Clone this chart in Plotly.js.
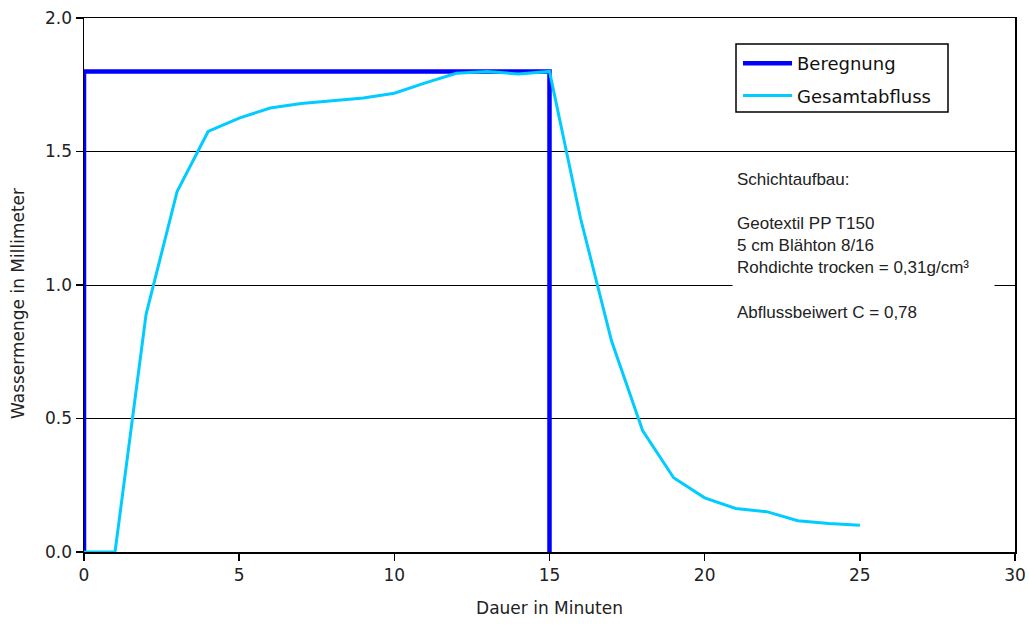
<!DOCTYPE html>
<html>
<head>
<meta charset="utf-8">
<script src="https://cdn.plot.ly/plotly-3.0.1.min.js"></script>
<style>html,body{margin:0;padding:0;background:#fff;}#chart{width:1029px;height:626px;}</style>
</head>
<body>
<div id="chart"></div>
<script>
// Data
const beregnungX = [0, 0, 15, 15];
const beregnungY = [0, 1.8, 1.8, 0];
const abflussX = [0, 1, 2, 3, 4, 5, 6, 7, 8, 9, 10, 11, 12, 13, 14, 15, 16, 17, 18, 19, 20, 21, 22, 23, 24, 25];
const abflussY = [0, 0, 0.89, 1.35, 1.575, 1.625, 1.663, 1.68, 1.69, 1.70, 1.718, 1.757, 1.793, 1.80, 1.79, 1.80, 1.25, 0.79, 0.455, 0.278, 0.203, 0.163, 0.151, 0.117, 0.107, 0.100];
const seriesNames = ["Beregnung", "Gesamtabfluss"];
const xTitle = "Dauer in Minuten";
const yTitle = "Wassermenge in Millimeter";
const noteLines = ["Schichtaufbau:", " ", "Geotextil PP T150", "5 cm Blähton 8/16", "Rohdichte trocken = 0,31g/cm³", " ", "Abflussbeiwert C = 0,78"];

const traces = [
  {x: beregnungX, y: beregnungY, type: "scatter", mode: "lines", name: seriesNames[0], legendgroup: "a",
   line: {color: "#0000FF", width: 4.5}, cliponaxis: false},
  {x: abflussX, y: abflussY, type: "scatter", mode: "lines", name: seriesNames[1], legendgroup: "b",
   line: {color: "#00CCFF", width: 3}, cliponaxis: false}
];

const F = "DejaVu Sans, sans-serif";
const px2x = p => (p - 84) / 931;
const px2y = p => (552 - p) / 534;
const layout = {
  width: 1029, height: 626,
  margin: {l: 84, r: 14, t: 18, b: 74},
  paper_bgcolor: "#fff", plot_bgcolor: "#fff",
  showlegend: true,
  legend: {x: px2x(738), y: px2y(45), xanchor: "left", yanchor: "top", bgcolor: "rgba(0,0,0,0)",
    borderwidth: 0, font: {family: F, size: 18, color: "#111"},
    traceorder: "grouped", tracegroupgap: 6, itemwidth: 49},
  shapes: [
    {type: "rect", xref: "paper", yref: "paper", x0: px2x(736), x1: px2x(948), y0: px2y(44), y1: px2y(112),
     line: {color: "#000", width: 1.5}, fillcolor: "#fff", layer: "above"}
  ],
  xaxis: {range: [0, 30], dtick: 5, tick0: 0, showgrid: false, zeroline: false,
    showline: true, linecolor: "#000", linewidth: 1.5, mirror: true,
    ticks: "outside", ticklen: 7, tickcolor: "#000", tickwidth: 1.5,
    tickfont: {family: F, size: 17, color: "#222"}, layer: "below traces",
    title: {text: xTitle, font: {family: F, size: 17, color: "#222"}, standoff: 18}},
  yaxis: {range: [0, 2], dtick: 0.5, tick0: 0, tickformat: ".1f", showgrid: true, gridcolor: "#000", gridwidth: 1,
    zeroline: false, showline: true, linecolor: "#000", linewidth: 1.5, mirror: true,
    ticks: "outside", ticklen: 7, tickcolor: "#000", tickwidth: 1.5,
    tickfont: {family: F, size: 17, color: "#222"}, layer: "below traces"},
  annotations: [
    {xref: "paper", yref: "paper", x: px2x(732), y: px2y(165), xanchor: "left", yanchor: "top",
     text: noteLines.join("<br>"), align: "left", showarrow: false, bgcolor: "#fff", borderpad: 4, width: 253,
     font: {family: "Liberation Sans, Arial, sans-serif", size: 17, color: "#222"}},
    {xref: "paper", yref: "paper", x: px2x(18), y: px2y(304), xanchor: "center", yanchor: "middle",
     text: yTitle, textangle: -90, showarrow: false, font: {family: F, size: 17, color: "#222"}}
  ]
};

Plotly.newPlot("chart", traces, layout, {displayModeBar: false, staticPlot: true});
</script>
</body>
</html>
